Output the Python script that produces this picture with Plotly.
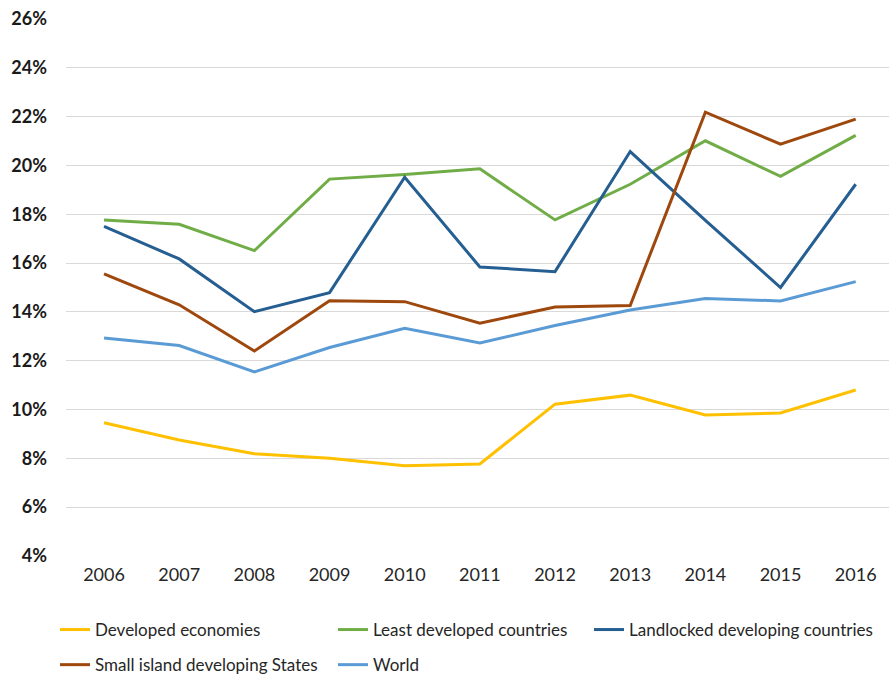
import plotly.graph_objects as go

# Years on the horizontal axis
years = [2006, 2007, 2008, 2009, 2010, 2011, 2012, 2013, 2014, 2015, 2016]

# Shares in percent, one list per country group
developed = [9.46, 8.75, 8.19, 8.00, 7.70, 7.77, 10.22, 10.59, 9.78, 9.86, 10.80]
least_developed = [17.77, 17.59, 16.51, 19.44, 19.63, 19.86, 17.77, 19.23, 21.01, 19.55, 21.23]
landlocked = [17.50, 16.17, 14.01, 14.79, 19.52, 15.84, 15.65, 20.57, 17.75, 15.00, 19.23]
small_island = [15.56, 14.29, 12.40, 14.46, 14.42, 13.54, 14.20, 14.26, 22.18, 20.87, 21.90]
world = [12.93, 12.62, 11.54, 12.54, 13.33, 12.73, 13.44, 14.08, 14.55, 14.45, 15.24]

y_ticks = [4, 6, 8, 10, 12, 14, 16, 18, 20, 22, 24, 26]

FONT = "Lato"
W, H = 889, 675
M_L, M_R, M_T, M_B = 66, 0, 19, 119
PLOT_W = W - M_L - M_R
PLOT_H = H - M_T - M_B


def px_x(px):
    """Horizontal pixel -> paper fraction."""
    return (px - M_L) / PLOT_W


def px_y(py):
    """Vertical pixel (from top) -> paper fraction."""
    return (H - M_B - py) / PLOT_H


series = [
    ("Developed economies", developed, "#FFC000", "legend"),
    ("Least developed countries", least_developed, "#70AD47", "legend2"),
    ("Landlocked developing countries", landlocked, "#255E91", "legend3"),
    ("Small island developing States", small_island, "#9E480E", "legend"),
    ("World", world, "#5B9BD5", "legend2"),
]

fig = go.Figure()
for name, vals, color, leg in series:
    fig.add_trace(go.Scatter(
        x=years, y=vals, name=name, mode="lines",
        line=dict(color=color, width=3),
        legend=leg, legendgroup=name,
    ))

legend_common = dict(
    orientation="v", xanchor="left", yanchor="top", tracegroupgap=10,
    font=dict(family=FONT, size=17, color="#262626"),
    bgcolor="rgba(0,0,0,0)", itemwidth=30,
)
legend_top = px_y(612)

fig.update_layout(
    width=W, height=H,
    margin=dict(l=M_L, r=M_R, t=M_T, b=M_B, autoexpand=False),
    paper_bgcolor="white", plot_bgcolor="white",
    showlegend=True,
    legend=dict(x=px_x(55), y=legend_top, **legend_common),
    legend2=dict(x=px_x(333), y=legend_top, **legend_common),
    legend3=dict(x=px_x(589), y=legend_top, **legend_common),
    xaxis=dict(
        range=[2005.494, 2016.443], tickvals=years,
        ticktext=[str(y) for y in years],
        showgrid=False, zeroline=False, showline=False, ticks="",
        tickfont=dict(family=FONT, size=18, color="#262626"),
        ticklabelstandoff=6,
    ),
    yaxis=dict(
        range=[4, 26], tickvals=y_ticks,
        ticktext=[f"{v}%" for v in y_ticks],
        showgrid=True, gridcolor="#D9D9D9", gridwidth=1,
        zeroline=False, showline=False, ticks="",
        tickfont=dict(family=FONT, size=18, color="#1a1a1a", weight="bold"),
        ticklabelstandoff=18,
    ),
)

fig.write_html("out.html")
